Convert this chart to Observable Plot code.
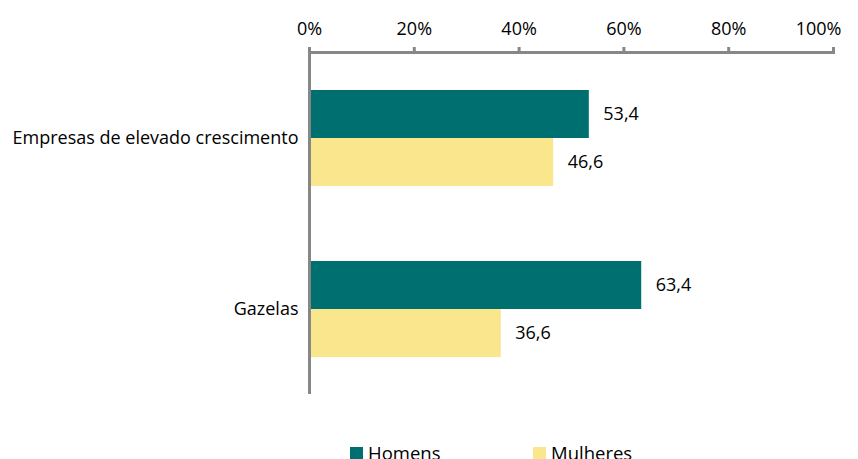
<!DOCTYPE html>
<html>
<head>
<meta charset="utf-8">
<script src="https://cdn.jsdelivr.net/npm/d3@7"></script>
<script src="https://cdn.jsdelivr.net/npm/@observablehq/plot@0.6"></script>
<style>
  body { margin: 0; background: #fff; font-family: "Open Sans", sans-serif; }
  #wrap { position: relative; width: 858px; height: 459px; overflow: hidden; }
  .legend { position: absolute; top: 440px; left: 0; width: 858px; font-size: 18.5px; color: #000; }
  .legend span.item { position: absolute; display: flex; align-items: center; }
  .legend i { display: inline-block; width: 13px; height: 12px; margin-right: 5px; }
</style>
</head>
<body>
<div id="wrap"></div>
<script>
const categories = ["Empresas de elevado crescimento", "Gazelas"];
const series = ["Homens", "Mulheres"];
const homens = [53.4, 63.4];
const mulheres = [46.6, 36.6];
const xTicks = [0, 20, 40, 60, 80, 100];
const colors = ["#006F6F", "#FAE68C"];

const data = [];
categories.forEach((c, i) => {
  data.push({category: c, sex: "Homens", value: homens[i]});
  data.push({category: c, sex: "Mulheres", value: mulheres[i]});
});
const fmt = v => d3.format(".1f")(v).replace(".", ",");
const tickFmt = d => d + "%";
const lastTick = xTicks[xTicks.length - 1];

const chart = Plot.plot({
  width: 858,
  height: 402,
  marginLeft: 309,
  marginRight: 25,
  marginTop: 52,
  marginBottom: 8,
  style: {fontFamily: "Open Sans, sans-serif", fontSize: "16px", color: "#000", background: "#fff"},
  x: {domain: [0, 100], axis: null},
  y: {domain: series, axis: null, paddingInner: 0, paddingOuter: 0.78},
  fy: {domain: categories, padding: 0, label: null},
  color: {domain: series, range: colors},
  marks: [
    Plot.barX(data, {fy: "category", y: "sex", x: "value", fill: "sex"}),
    Plot.text(data, {fy: "category", y: "sex", x: "value", text: d => fmt(d.value), textAnchor: "start", dx: 14, fontSize: 18}),
    Plot.ruleX([0], {stroke: "#878787", strokeWidth: 3}),
    Plot.frame({anchor: "top", facet: "super", stroke: "#878787", strokeWidth: 3}),
    Plot.axisX({anchor: "top", ticks: xTicks, tickFormat: tickFmt, tickSize: 6, tickPadding: 12, stroke: "#878787", strokeWidth: 3, fill: null, label: null}),
    Plot.axisX({anchor: "top", ticks: xTicks.slice(0, -1), tickFormat: tickFmt, tickSize: 6, tickPadding: 12, stroke: null, fill: "#000", fontSize: 18, label: null}),
    Plot.axisX({anchor: "top", ticks: [lastTick], tickFormat: tickFmt, tickSize: 6, tickPadding: 12, dx: -15, stroke: null, fill: "#000", fontSize: 18, label: null}),
    Plot.axisFy({anchor: "left", tickSize: 0, tickPadding: 11, fontSize: 18, label: null, fill: "#000"})
  ]
});
document.getElementById("wrap").appendChild(chart);

const legend = document.createElement("div");
legend.className = "legend";
const legendX = [350, 533];
series.forEach((s, i) => {
  const it = document.createElement("span");
  it.className = "item";
  it.style.left = legendX[i] + "px";
  it.innerHTML = `<i style="background:${colors[i]}"></i>${s}`;
  legend.appendChild(it);
});
document.getElementById("wrap").appendChild(legend);
</script>
</body>
</html>
